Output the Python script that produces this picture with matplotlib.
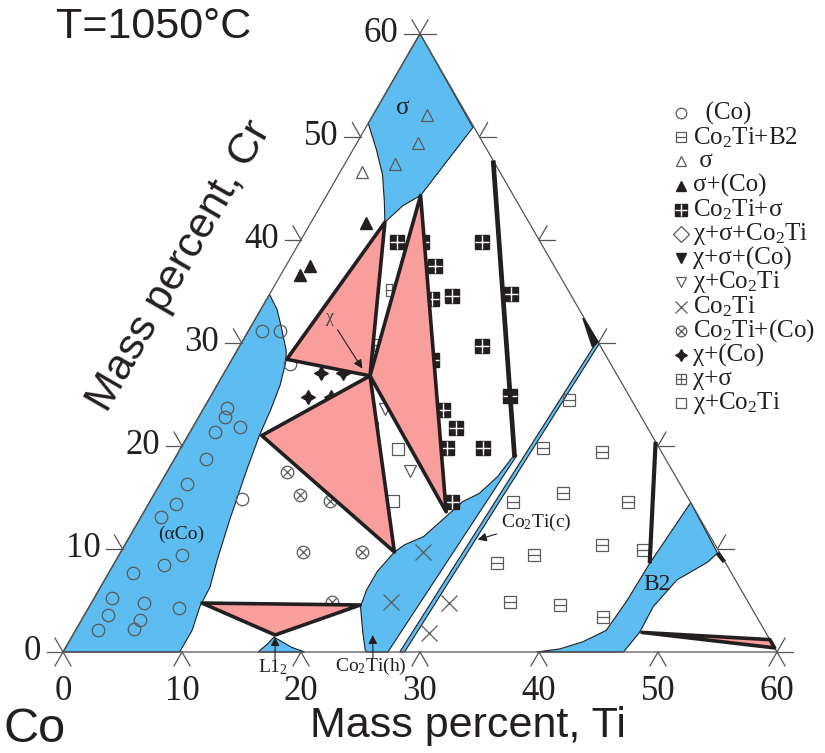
import numpy as np
import matplotlib.pyplot as plt
from matplotlib.patches import Polygon

plt.rcParams['mathtext.fontset'] = 'custom'
plt.rcParams['mathtext.rm'] = 'Liberation Serif'
plt.rcParams['mathtext.default'] = 'regular'

serif = 'Liberation Serif'
sans = 'Liberation Sans'

blue = '#5DBDF1'
pink = '#F89E9C'
ink = '#231F20'
grey = '#5A5A5A'

# ---- phase regions, every point is (Ti, Cr) in mass percent ----
aco_region = [(0, 0), (9.8, 0), (9.8, 2.1), (9.3, 4.4), (9.2, 6.3), (8.5, 8.9), (7.6, 12.8),
              (6.6, 17.7), (6.0, 21.0), (5.7, 23.5), (5.3, 25.9), (4.6, 28.3), (4.1, 29.3),
              (2.6, 31.5), (1.4, 33.2), (0.1, 34.6), (0, 34.6)]
sigma_region = [(0, 51.3), (2.0, 48.7), (3.7, 46.3), (5.1, 43.8), (6.2, 41.7), (6.9, 43.3),
                (7.9, 44.3), (9.0, 50.9), (0, 60)]
co2ti_h_region = [(23.0, 9.7), (23.5, 10.4), (24.7, 11.2), (25.6, 13.1), (26.3, 14.6), (27.3, 15.4),
                  (28.0, 17.0), (28.3, 18.8), (28.6, 19.1), (27.3, 0), (25.5, 0), (25.3, 0.2),
                  (24.3, 1.8), (22.8, 4.4), (22.5, 6.0), (22.5, 7.8)]
co2ti_c_region = [(28.3, 0), (28.7, 0), (30.1, 29.9), (29.8, 30.2)]
l12_region = [(16.4, 0), (16.8, 0.8), (17.0, 1.45), (17.9, 1.0), (19.0, 0.45), (20.3, 0)]
b2_region = [(39.8, 0), (41.6, 0.3), (43.2, 1.0), (44.6, 2.1), (44.9, 5.0), (45.0, 8.6), (45.5, 14.5),
             (50.2, 9.6), (49.8, 8.7), (48.1, 7.0), (47.4, 4.4), (47.5, 1.9), (47.1, 0)]

# three-phase triangles
tri_sigma_co = [(4.6, 28.4), (6.2, 41.7), (12.4, 26.8)]
tri_sigma_co2ti = [(7.9, 44.3), (12.4, 26.8), (25.4, 13.6)]
tri_co2ti_co = [(6.2, 21.0), (12.4, 26.8), (23.0, 9.7)]
tri_l12 = [(9.3, 4.75), (22.7, 4.56), (17.0, 1.65)]
tri_b2 = [(47.7, 1.9), (58.8, 1.2), (59.6, 0.4)]
wedge_right = [(27.5, 32.4), (29.9, 30.1), (29.7, 29.6)]

# tie lines
tie_sigma = [(12.3, 47.7), (28.5, 18.9)]
tie_b2 = [(39.6, 20.4), (45.0, 8.6)]
tie_b2_small = [(50.2, 9.6), (51.2, 8.75)]

# ---- alloy compositions (Ti, Cr) ----
pts_co = [(1.2, 31.1), (2.7, 31.1), (5.1, 27.9), (1.9, 23.7), (2.2, 22.8), (4.0, 21.8), (2.1, 21.3),
          (2.7, 18.7), (2.3, 16.3), (2.3, 14.4), (1.7, 13.1), (5.3, 9.4), (4.3, 8.4), (2.0, 7.7),
          (1.5, 5.2), (4.4, 4.8), (7.6, 4.3), (2.0, 3.6), (4.9, 3.1), (4.9, 2.2), (1.9, 2.1), (7.6, 14.8)]
pts_co2ti_b2 = [(30.3, 24.5), (30.4, 19.8), (35.6, 19.4), (34.3, 15.4), (30.5, 14.6), (40.2, 14.6),
                (40.1, 10.4), (34.9, 9.4), (32.2, 8.6), (43.8, 9.9), (35.1, 4.9), (39.5, 4.6), (43.7, 3.4)]
pts_sigma = [(1.8, 46.6), (4.2, 47.4), (5.1, 49.4), (4.5, 52.1)]
pts_sigma_co = [(4.7, 41.6), (2.0, 37.5), (1.6, 36.6)]
pts_co2ti_sigma = [(8.2, 39.8), (10.3, 39.8), (15.3, 39.8), (12.5, 37.5), (13.9, 34.3), (15.4, 34.5),
                   (20.3, 34.7), (15.4, 29.9), (20.4, 29.7), (16.9, 28.3), (25.2, 24.8), (20.2, 23.5),
                   (22.2, 21.7), (20.1, 21.7), (22.4, 19.8), (25.4, 19.8), (22.4, 17.6), (25.4, 14.6)]
pts_chi_sigma_co2ti = [(15.3, 25.6), (18.3, 21.6)]
pts_chi_sigma_co = [(7.1, 30.1), (8.2, 29.8)]
pts_chi_co2ti_a = [(15.3, 23.6), (20.4, 17.6)]
pts_co2ti = [(25.4, 9.7), (25.1, 4.85), (30.1, 4.75), (29.8, 1.84)]
pts_co2ti_co = [(9.3, 19.9), (10.1, 17.5), (12.3, 15.2), (15.1, 14.7), (15.3, 9.7), (20.3, 9.7), (20.2, 4.85)]
pts_chi_co = [(8.1, 27.1), (10.0, 27.1), (8.2, 24.7), (10.2, 24.7)]
pts_chi_sigma = [(10.1, 35.1), (10.1, 29.8), (11.2, 29.8), (13.4, 26.7)]
pts_chi_co2ti_b = [(10.4, 22.7), (15.1, 21.7), (13.3, 19.7), (15.3, 19.7), (18.3, 19.7), (20.4, 14.7)]

legend_labels = ['  (Co)', 'Co$_2$Ti+B2', ' σ', 'σ+(Co)', 'Co$_2$Ti+σ', 'χ+σ+Co$_2$Ti', 'χ+σ+(Co)',
                 'χ+Co$_2$Ti', 'Co$_2$Ti', 'Co$_2$Ti+(Co)', 'χ+(Co)', 'χ+σ', 'χ+Co$_2$Ti']
axis_ticks = [0, 10, 20, 30, 40, 50, 60]


def tern(pts):
    pts = np.asarray(pts, dtype=float)
    return pts[:, 0] + pts[:, 1] / 2, pts[:, 1] * np.sqrt(3) / 2


def xy(p):
    x, y = tern([p])
    return x[0], y[0]


# marker looks, each is a list of layers drawn on top of each other
ok = dict(ls='none', mfc='none', mec=grey, mew=0.9)
st_co = [dict(marker='o', ms=9, **ok)]
st_b2 = [dict(marker='s', ms=8.5, **ok), dict(marker='_', ms=8.5, ls='none', mec=grey, mew=0.9)]
st_sigma = [dict(marker='^', ms=9, **ok)]
st_sigma_co = [dict(marker='^', ms=9, ls='none', color=ink, mec=ink)]
st_co2ti_sigma = [dict(marker='s', ms=9.5, ls='none', color=ink, mec=ink),
                  dict(marker='+', ms=9.5, ls='none', mec='white', mew=1.0)]
st_diamond = [dict(marker='D', ms=9, **ok)]
st_down = [dict(marker='v', ms=9, ls='none', color=ink, mec=ink)]
st_down_open = [dict(marker='v', ms=9, **ok)]
st_cross = [dict(marker='x', ms=11, ls='none', mec=grey, mew=0.9)]
st_otimes = [dict(marker='o', ms=9, **ok), dict(marker='x', ms=6.4, ls='none', mec=grey, mew=0.9)]
st_star = [dict(marker=(4, 1, 0), ms=10, ls='none', color=ink, mec=ink)]
st_boxplus = [dict(marker='s', ms=8.5, **ok), dict(marker='+', ms=8.5, ls='none', mec=grey, mew=0.9)]
st_box = [dict(marker='s', ms=8.5, **ok)]

groups = [(pts_co, st_co), (pts_co2ti_b2, st_b2), (pts_sigma, st_sigma), (pts_sigma_co, st_sigma_co),
          (pts_co2ti_sigma, st_co2ti_sigma), (pts_chi_sigma_co2ti, st_diamond), (pts_chi_sigma_co, st_down),
          (pts_chi_co2ti_a, st_down_open), (pts_co2ti, st_cross), (pts_co2ti_co, st_otimes),
          (pts_chi_co, st_star), (pts_chi_sigma, st_boxplus), (pts_chi_co2ti_b, st_box)]

fig = plt.figure(figsize=(8.25, 7.53), dpi=100)
ax = fig.add_axes([0, 0, 1, 1])
ax.set_xlim(-63 / 11.9, (825 - 63) / 11.9)
ax.set_ylim(-(753 - 652) / 11.9, 652 / 11.9)
ax.axis('off')

# single phase fields
for reg in [aco_region, sigma_region, co2ti_h_region, co2ti_c_region, l12_region, b2_region]:
    x, y = tern(reg)
    ax.add_patch(Polygon(np.c_[x, y], closed=True, fc=blue, ec=ink, lw=0.8, zorder=1))

# three phase triangles
for tri in [tri_sigma_co, tri_sigma_co2ti, tri_co2ti_co, tri_l12, tri_b2]:
    x, y = tern(tri)
    ax.add_patch(Polygon(np.c_[x, y], closed=True, fc=pink, ec=ink, lw=2.6, joinstyle='round', zorder=4))
x, y = tern(wedge_right)
ax.add_patch(Polygon(np.c_[x, y], closed=True, fc=ink, ec=ink, lw=1.2, zorder=4))

for tie, lw in [(tie_sigma, 3.4), (tie_b2, 3.0), (tie_b2_small, 3.0)]:
    x, y = tern(tie)
    ax.plot(x, y, color=ink, lw=lw, solid_capstyle='butt', zorder=4)

# triangle frame
x, y = tern([(0, 0), (60, 0), (0, 60), (0, 0)])
ax.plot(x, y, color='#555555', lw=0.9, zorder=2.5)

# edge ticks: outward stubs of the grid lines
L = 1.35
s3 = np.sqrt(3) / 2
for v in axis_ticks:
    bx, by = xy((v, 0))
    lx, ly = xy((0, v))
    rx, ry = xy((60 - v, v))
    for (px, py), dirs in [((bx, by), [(-0.5, -s3), (0.5, -s3)]),
                           ((lx, ly), [(-1, 0), (-0.5, s3)]),
                           ((rx, ry), [(1, 0), (0.5, s3)])]:
        for dx, dy in dirs:
            ax.plot([px, px + L * dx], [py, py + L * dy], color='#555555', lw=0.9, zorder=2.5)
    ax.text(bx, -3.36, str(v), family=serif, fontsize=25, ha='center', va='center', color=ink)
    ax.text(lx - 1.85, ly, str(v), family=serif, fontsize=25, ha='right', va='center', color=ink)

# alloy points
for pts, layers in groups:
    x, y = tern(pts)
    for kw in layers:
        ax.plot(x, y, zorder=3, **kw)

# legend, drawn by hand in figure pixels
for i, (lab, (_, layers)) in enumerate(zip(legend_labels, groups)):
    py = 753 - (113 + 24.2 * i)
    for kw in layers:
        kw2 = dict(kw)
        kw2['ms'] = kw['ms'] * 0.85
        fig.lines.append(plt.Line2D([681 / 825], [py / 753], transform=fig.transFigure, **kw2))
    fig.text(693 / 825, py / 753, lab, family=serif, fontsize=18, ha='left', va='center', color=ink)


# labels inside the diagram
def ftext(px, py, s, **kw):
    fig.text(px / 825, 1 - py / 753, s, **kw)


ftext(403, 108, 'σ', family=serif, fontsize=18, ha='center', va='center', color=ink)
ftext(181, 534, '(αCo)', family=serif, fontsize=14, ha='center', va='center', color=ink)
ftext(657, 585, 'B2', family=serif, fontsize=17, ha='center', va='center', color=ink)

arw = dict(arrowstyle='-|>', color=ink, lw=0.8, mutation_scale=13, shrinkA=1, shrinkB=0)
ax.annotate('χ', xy=xy((11.4, 27.5)), xytext=(330, 753 - 318), textcoords='figure pixels',
            family=serif, fontsize=13, ha='center', va='center', color='#444444', arrowprops=arw, zorder=5)
ax.annotate('Co$_2$Ti(c)', xy=xy((29.4, 10.9)), xytext=(536, 753 - 522), textcoords='figure pixels',
            family=serif, fontsize=14, ha='center', va='center', color=ink, arrowprops=arw, zorder=5)
ax.annotate('', xy=xy((17.1, 1.45)), xytext=(275, 753 - 660), textcoords='figure pixels',
            arrowprops=arw, zorder=5)
ftext(273, 667, 'L1$_2$', family=serif, fontsize=14, ha='center', va='center', color=ink)
ax.annotate('', xy=xy((25.2, 1.65)), xytext=(373, 753 - 660), textcoords='figure pixels',
            arrowprops=arw, zorder=5)
ftext(371, 666, 'Co$_2$Ti(h)', family=serif, fontsize=14, ha='center', va='center', color=ink)

# titles
ftext(154, 27, 'T=1050°C', family=sans, fontsize=31, ha='center', va='center', color=ink)
ftext(468, 726, 'Mass percent, Ti', family=sans, fontsize=31, ha='center', va='center', color=ink)
ftext(180, 266, 'Mass percent, Cr', family=sans, fontsize=31, ha='center', va='center',
      rotation=60, rotation_mode='anchor', color=ink)
ftext(35, 730, 'Co', family=sans, fontsize=35, ha='center', va='center', color=ink)

fig.savefig('out.png', dpi=100)
